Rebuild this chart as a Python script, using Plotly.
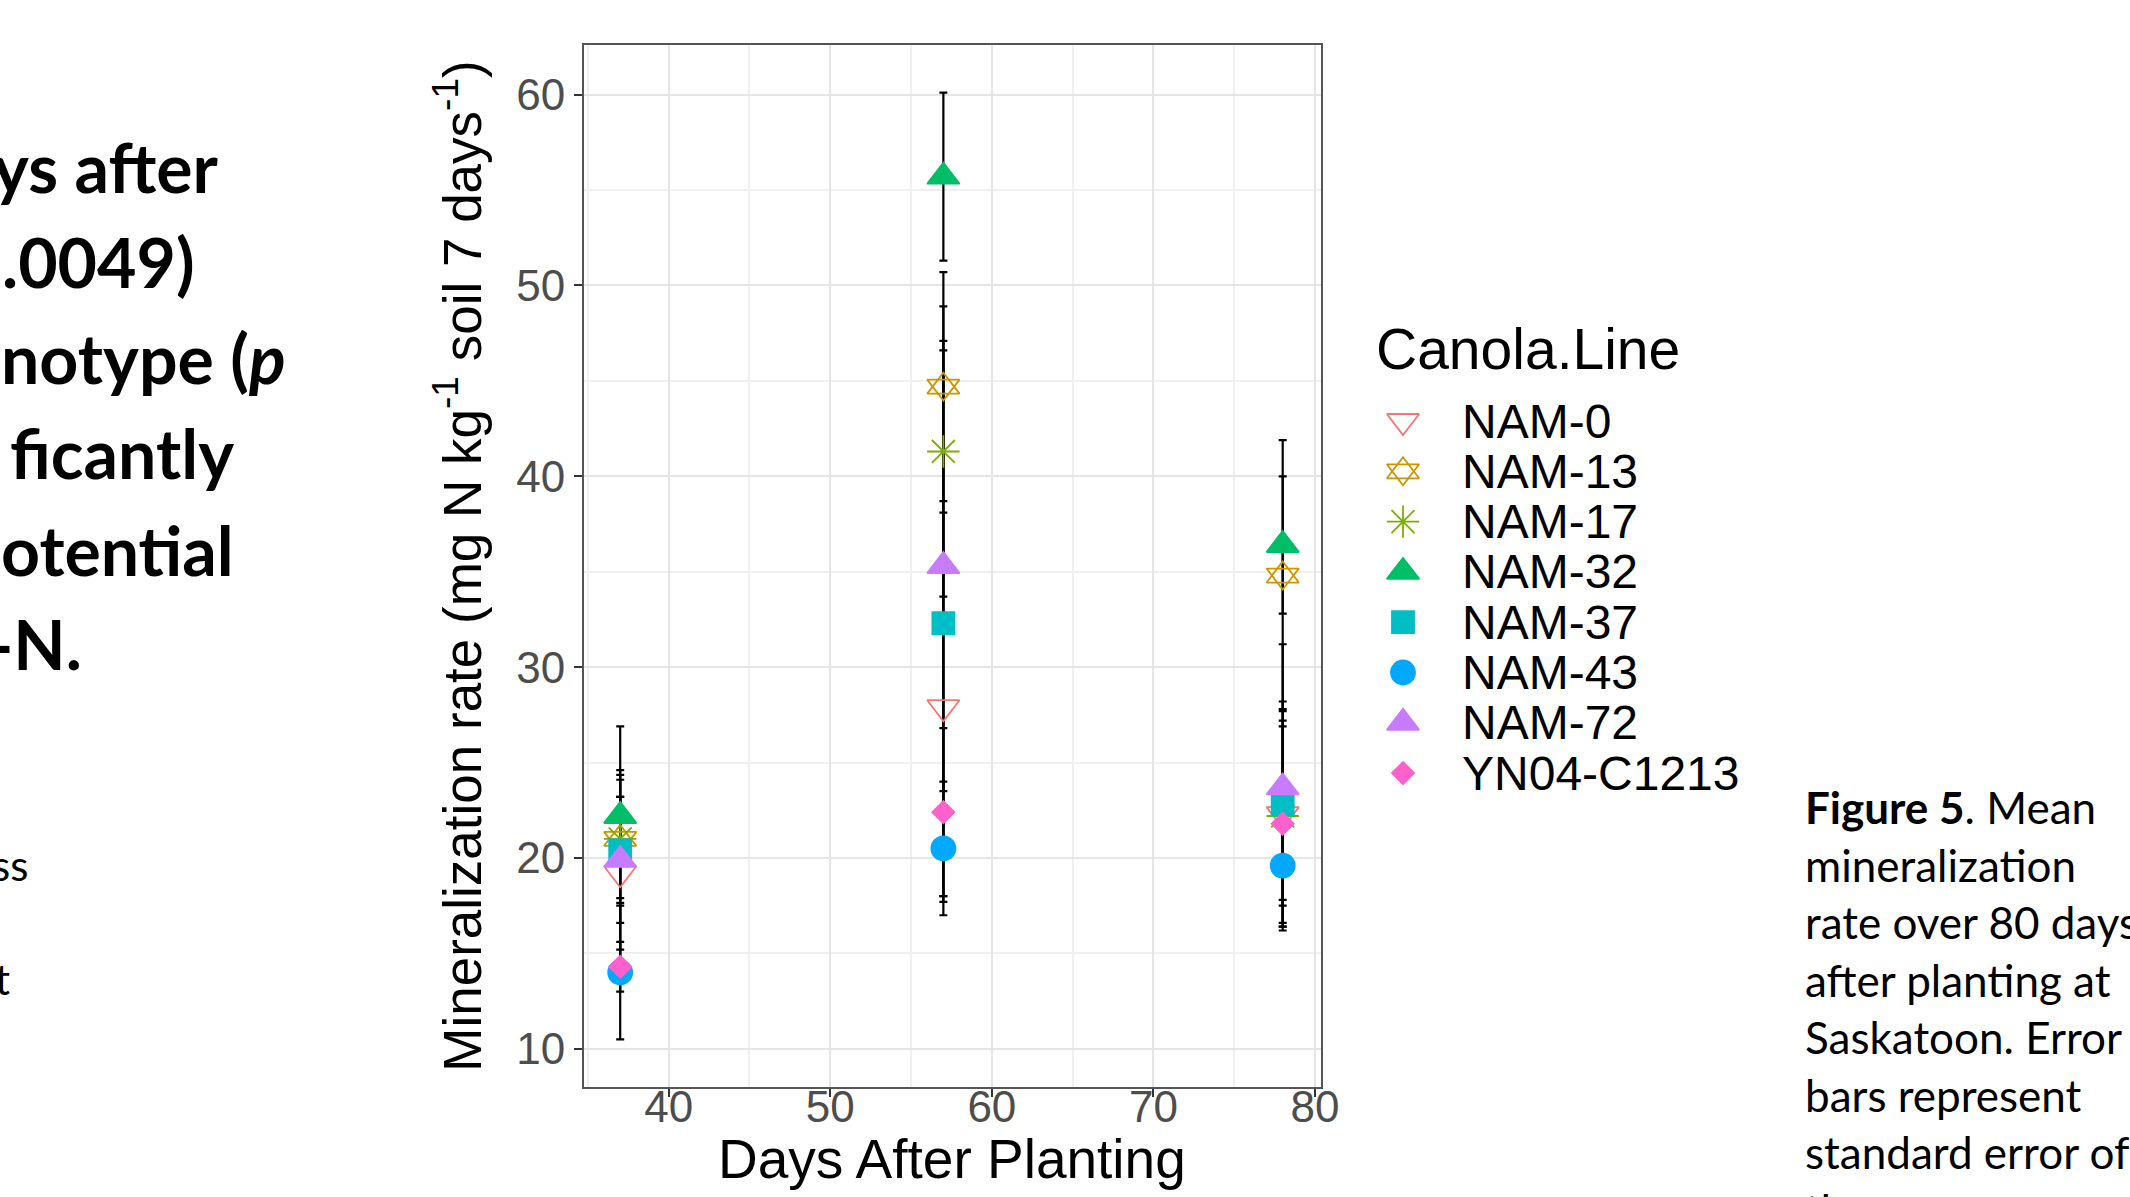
import plotly.graph_objects as go

# ---------------- data ----------------
days = [37, 57, 78]
canola_lines = ["NAM-0", "NAM-13", "NAM-17", "NAM-32", "NAM-37", "NAM-43", "NAM-72", "YN04-C1213"]

mean_nam0 = [19.2, 27.9, 22.3]
mean_nam13 = [21.0, 44.7, 34.8]
mean_nam17 = [21.0, 41.3, 22.2]
mean_nam32 = [22.2, 55.7, 36.4]
mean_nam37 = [20.4, 32.3, 22.8]
mean_nam43 = [14.0, 20.5, 19.6]
mean_nam72 = [19.9, 35.3, 23.7]
mean_yn04 = [14.3, 22.4, 21.8]

se_nam0 = [4.0, 10.2, 5.9]
se_nam13 = [3.35, 6.0, 7.1]
se_nam17 = [3.1, 7.6, 4.7]
se_nam32 = [2.4, 4.4, 3.6]
se_nam37 = [6.5, 14.3, 5.0]
se_nam43 = [3.5, 3.5, 3.0]
se_nam72 = [3.3, 11.8, 7.5]
se_yn04 = [1.3, 4.4, 5.4]

y_ticks = [10, 20, 30, 40, 50, 60]
x_ticks = [40, 50, 60, 70, 80]

means = [mean_nam0, mean_nam13, mean_nam17, mean_nam32, mean_nam37, mean_nam43, mean_nam72, mean_yn04]
ses = [se_nam0, se_nam13, se_nam17, se_nam32, se_nam37, se_nam43, se_nam72, se_yn04]

# ---------------- styles ----------------
W, H = 2130, 1197
colors = ["#F8766D", "#CD9600", "#7CAE00", "#00BE67", "#00BFC4", "#00A9FF", "#C77CFF", "#FF61CC"]
symbols = [
    [("triangle-down-open", 28)],
    [("triangle-up-open", 28), ("triangle-down-open", 28)],
    [("asterisk-open", 27)],
    [("triangle-up", 28)],
    [("square", 22)],
    [("circle", 24)],
    [("triangle-up", 28)],
    [("diamond", 17)],
]
CHART_FONT = "Liberation Sans, Arial, sans-serif"
SLIDE_FONT = "Lato, Open Sans, sans-serif"


def px(x):
    return x / W


def py(y):
    return 1 - y / H


fig = go.Figure()

# error bars first (under every point)
for name, m, s in zip(canola_lines, means, ses):
    fig.add_trace(go.Scatter(
        x=days, y=m, mode="markers",
        marker=dict(size=2, opacity=0),
        error_y=dict(type="data", array=s, visible=True, color="black", thickness=2.2, width=4),
        showlegend=False, hoverinfo="skip", xaxis="x", yaxis="y",
    ))

# points
for name, m, col, syms in zip(canola_lines, means, colors, symbols):
    for sym, sz in syms:
        fig.add_trace(go.Scatter(
            x=days, y=m, mode="markers", name=name,
            marker=dict(symbol=sym, size=sz, color=col, line=dict(color=col, width=1.8)),
            showlegend=False, xaxis="x", yaxis="y",
        ))

# custom legend drawn on a helper axis (values = pixel positions)
leg_x_marker = 1403
leg_y0, leg_dy = 421, 50.3
for i, (name, col, syms) in enumerate(zip(canola_lines, colors, symbols)):
    yy = leg_y0 + leg_dy * i
    for sym, sz in syms:
        fig.add_trace(go.Scatter(
            x=[leg_x_marker], y=[yy], mode="markers",
            marker=dict(symbol=sym, size=sz, color=col, line=dict(color=col, width=1.8)),
            showlegend=False, hoverinfo="skip", xaxis="x2", yaxis="y2",
        ))

annotations = []
for i, name in enumerate(canola_lines):
    yy = leg_y0 + leg_dy * i
    annotations.append(dict(x=1460, y=yy, xref="x2", yref="y2", text=name, showarrow=False,
                            xanchor="left", yanchor="middle",
                            font=dict(family=CHART_FONT, size=48, color="black")))
annotations.append(dict(x=px(1374), y=py(349), xref="paper", yref="paper", text="Canola.Line",
                        showarrow=False, xanchor="left", yanchor="middle",
                        font=dict(family=CHART_FONT, size=57, color="black")))

# x axis title
annotations.append(dict(x=px(952), y=py(1159), xref="paper", yref="paper", text="Days After Planting",
                        showarrow=False, xanchor="center", yanchor="middle",
                        font=dict(family=CHART_FONT, size=55, color="black")))

# slide text (left, cut by the window edge)
left_bold = [("ys after", 221, 166), (".0049)", 197, 261), ("notype (<i>p</i>", 288, 357),
             ("ficantly", 236, 452), ("otential", 236, 549), ("-N.", 84, 643)]
for t, xr, yc in left_bold:
    annotations.append(dict(x=px(xr), y=py(yc), xref="paper", yref="paper", text="<b>" + t + "</b>",
                            showarrow=False, xanchor="right", yanchor="middle",
                            font=dict(family=SLIDE_FONT, size=68, color="black")))
for t, xr, yc in [("ss", 30, 865), ("t", 12, 979)]:
    annotations.append(dict(x=px(xr), y=py(yc), xref="paper", yref="paper", text=t,
                            showarrow=False, xanchor="right", yanchor="middle",
                            font=dict(family=SLIDE_FONT, size=42, color="black")))

caption = ["<b>Figure 5</b>. Mean", "mineralization", "rate over 80 days", "after planting at",
           "Saskatoon. Error", "bars represent", "standard error of", "the mean."]
for i, t in enumerate(caption):
    annotations.append(dict(x=px(1803), y=py(807 + 57.5 * i), xref="paper", yref="paper", text=t,
                            showarrow=False, xanchor="left", yanchor="middle",
                            font=dict(family=SLIDE_FONT, size=44, color="black")))

grid_major = "#E5E5E5"
grid_minor = "#F0F0F0"
frame = "#555555"

fig.update_layout(
    width=W, height=H,
    margin=dict(l=0, r=0, t=0, b=0),
    paper_bgcolor="white", plot_bgcolor="white",
    showlegend=False,
    annotations=annotations,
    xaxis=dict(
        domain=[px(584), px(1321)], range=[34.76, 80.37],
        tickmode="array", tickvals=x_ticks, ticktext=[str(v) for v in x_ticks],
        ticks="outside", ticklen=8, tickwidth=2, tickcolor="#333333",
        ticklabelstandoff=-28,
        tickfont=dict(family=CHART_FONT, size=44, color="#4D4D4D"),
        showgrid=True, gridcolor=grid_major, gridwidth=2,
        minor=dict(tick0=35, dtick=10, showgrid=True, gridcolor=grid_minor, gridwidth=1.5, ticks=""),
        showline=True, mirror=True, linecolor=frame, linewidth=2, zeroline=False,
        automargin=False, anchor="y",
    ),
    yaxis=dict(
        domain=[py(1087), py(45)], range=[8.0, 62.6],
        tickmode="array", tickvals=y_ticks, ticktext=[str(v) for v in y_ticks],
        ticks="outside", ticklen=8, tickwidth=2, tickcolor="#333333",
        tickfont=dict(family=CHART_FONT, size=44, color="#4D4D4D"),
        showgrid=True, gridcolor=grid_major, gridwidth=2,
        minor=dict(tick0=15, dtick=10, showgrid=True, gridcolor=grid_minor, gridwidth=1.5, ticks=""),
        showline=True, mirror=True, linecolor=frame, linewidth=2, zeroline=False,
        title=dict(text="Mineralization rate (mg N kg<sup>-1</sup> soil 7 days<sup>-1</sup>)",
                   font=dict(family=CHART_FONT, size=53, color="black"), standoff=18),
        automargin=False, anchor="x",
    ),
    xaxis2=dict(domain=[px(1380), px(1760)], range=[1380, 1760], visible=False, anchor="y2"),
    yaxis2=dict(domain=[py(820), py(380)], range=[820, 380], visible=False, anchor="x2"),
)

fig.write_html("out.html", config={"displayModeBar": False},
               post_script="document.body.style.margin='0px';document.body.style.overflow='hidden';")
